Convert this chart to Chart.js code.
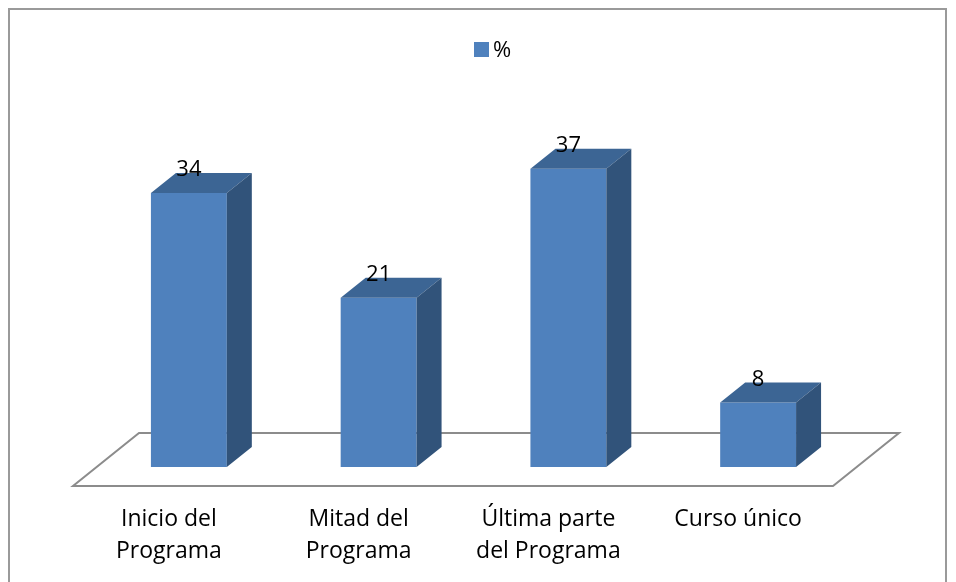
<!DOCTYPE html>
<html>
<head>
<meta charset="utf-8">
<script src="https://cdn.jsdelivr.net/npm/chart.js@4"></script>
<style>
  body { margin: 0; background: #fff; }
  #wrap { width: 956px; height: 582px; }
</style>
</head>
<body>
<div id="wrap"><canvas id="chart" width="956" height="582"></canvas></div>
<script>
// values
const categories = [["Inicio del", "Programa"], ["Mitad del", "Programa"], ["Última parte", "del Programa"], ["Curso único"]];
const seriesName = "%";
const percent = [34, 21, 37, 8];

const FRONT = "#4F81BD";
const TOP = "#3C6594";
const SIDE = "#31537A";
const DEPTH_X = 25, DEPTH_Y = -20;
const FONT = "'Open Sans', sans-serif";

// draws the frame, floor, 3d faces, labels and legend around the plain bars
const threeD = {
  id: "threeD",
  beforeDatasetsDraw(chart) {
    const ctx = chart.ctx;
    const xs = chart.scales.x, ys = chart.scales.y;
    const y0 = ys.getPixelForValue(0);
    ctx.save();
    // outer frame
    ctx.strokeStyle = "#9a9a9a";
    ctx.lineWidth = 2;
    ctx.strokeRect(9, 9, 937, 600);
    // floor
    ctx.strokeStyle = "#8c8c8c";
    ctx.lineWidth = 2;
    ctx.beginPath();
    ctx.moveTo(xs.left - 21, y0 + 19);
    ctx.lineTo(xs.right - 20, y0 + 19);
    ctx.lineTo(xs.right + 46, y0 - 34);
    ctx.lineTo(xs.left + 45, y0 - 34);
    ctx.closePath();
    ctx.stroke();
    ctx.restore();
  },
  afterDatasetsDraw(chart) {
    const ctx = chart.ctx;
    const meta = chart.getDatasetMeta(0);
    const xs = chart.scales.x;
    ctx.save();
    meta.data.forEach((bar, i) => {
      const l = bar.x - bar.width / 2, r = bar.x + bar.width / 2;
      const t = bar.y, b = bar.base;
      // top face
      ctx.fillStyle = TOP;
      ctx.beginPath();
      ctx.moveTo(l, t);
      ctx.lineTo(l + DEPTH_X, t + DEPTH_Y);
      ctx.lineTo(r + DEPTH_X, t + DEPTH_Y);
      ctx.lineTo(r, t);
      ctx.closePath();
      ctx.fill();
      // side face
      ctx.fillStyle = SIDE;
      ctx.beginPath();
      ctx.moveTo(r, t);
      ctx.lineTo(r + DEPTH_X, t + DEPTH_Y);
      ctx.lineTo(r + DEPTH_X, b + DEPTH_Y);
      ctx.lineTo(r, b);
      ctx.closePath();
      ctx.fill();
      // value label
      ctx.fillStyle = "#000";
      ctx.font = "22px " + FONT;
      ctx.textAlign = "center";
      ctx.textBaseline = "alphabetic";
      ctx.fillText(String(percent[i]), bar.x, t - 17);
      // category label, centred under the front edge of the floor
      ctx.font = "23px " + FONT;
      const cx = xs.getPixelForValue(i) - 20;
      categories[i].forEach((line, k) => {
        ctx.fillText(line, cx, 526 + k * 32);
      });
    });
    // legend
    ctx.fillStyle = FRONT;
    ctx.fillRect(474, 42, 15, 15);
    ctx.fillStyle = "#000";
    ctx.font = "22px " + FONT;
    ctx.textAlign = "left";
    ctx.fillText(seriesName, 493, 57);
    ctx.restore();
  }
};

new Chart(document.getElementById("chart"), {
  type: "bar",
  data: {
    labels: categories,
    datasets: [{
      label: seriesName,
      data: percent,
      backgroundColor: FRONT,
      borderWidth: 0,
      categoryPercentage: 1,
      barPercentage: 0.4
    }]
  },
  options: {
    responsive: false,
    animation: false,
    layout: { padding: { left: 94, right: 103, top: 64, bottom: 115 } },
    plugins: { legend: { display: false }, tooltip: { enabled: false } },
    scales: {
      x: { display: false },
      y: { display: false, min: 0, max: 50 }
    }
  },
  plugins: [threeD]
});
</script>
</body>
</html>
